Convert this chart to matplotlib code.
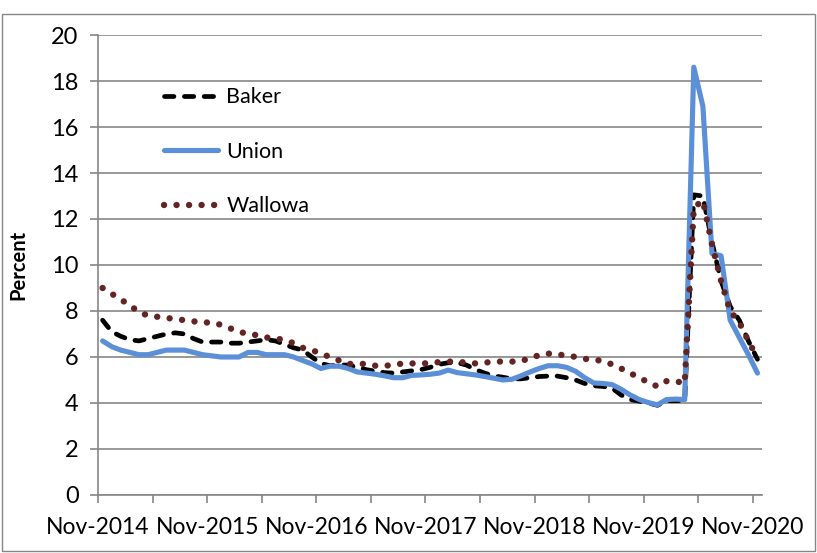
import numpy as np
import matplotlib
matplotlib.use("Agg")
import matplotlib.pyplot as plt
from matplotlib.patches import Rectangle

# ---- data (monthly, Nov-2014 .. Nov-2020) ----
baker = [7.6, 7.1, 6.9, 6.75, 6.7, 6.8, 6.9, 7.0, 7.05, 7.0, 6.8, 6.65,
         6.65, 6.65, 6.6, 6.6, 6.65, 6.7, 6.75, 6.7, 6.55, 6.4, 6.3, 6.0,
         5.72, 5.62, 5.65, 5.65, 5.55, 5.45, 5.38, 5.32, 5.3, 5.35, 5.4, 5.45,
         5.55, 5.68, 5.75, 5.75, 5.65, 5.45, 5.3, 5.18, 5.12, 5.05, 5.05, 5.1,
         5.15, 5.17, 5.17, 5.1, 5.0, 4.85, 4.75, 4.72, 4.65, 4.35, 4.15, 4.08,
         4.0, 3.9, 4.1, 4.1, 4.1, 13.05, 13.0, 11.0, 9.3, 8.2, 7.6, 6.7,
         5.9]
union = [6.7, 6.45, 6.3, 6.2, 6.1, 6.1, 6.2, 6.3, 6.3, 6.3, 6.2, 6.1,
         6.05, 6.0, 6.0, 6.0, 6.2, 6.2, 6.1, 6.1, 6.1, 6.0, 5.85, 5.7,
         5.5, 5.6, 5.6, 5.5, 5.35, 5.3, 5.25, 5.18, 5.1, 5.1, 5.2, 5.22,
         5.25, 5.3, 5.43, 5.32, 5.27, 5.22, 5.15, 5.08, 5.0, 5.03, 5.18, 5.35,
         5.5, 5.62, 5.62, 5.55, 5.38, 5.1, 4.87, 4.85, 4.8, 4.6, 4.35, 4.15,
         4.02, 3.92, 4.15, 4.17, 4.15, 18.6, 16.9, 10.5, 10.4, 7.6, 6.85, 6.1,
         5.3]
wallowa = [9.0, 8.75, 8.5, 8.25, 7.95, 7.8, 7.75, 7.7, 7.65, 7.6, 7.55, 7.5,
           7.5, 7.4, 7.25, 7.1, 7.0, 6.95, 6.85, 6.8, 6.75, 6.6, 6.4, 6.3,
           6.15, 6.0, 5.85, 5.7, 5.7, 5.7, 5.62, 5.62, 5.65, 5.72, 5.72, 5.72,
           5.73, 5.78, 5.8, 5.8, 5.75, 5.72, 5.75, 5.8, 5.8, 5.8, 5.82, 5.95,
           6.08, 6.15, 6.1, 6.08, 6.0, 5.92, 5.88, 5.83, 5.68, 5.5, 5.3, 5.1,
           4.9, 4.72, 4.95, 4.95, 4.85, 12.5, 12.8, 10.9, 9.3, 8.0, 7.5, 6.7,
           5.95]
tick_labels = ["Nov-2014", "Nov-2015", "Nov-2016", "Nov-2017",
               "Nov-2018", "Nov-2019", "Nov-2020"]
y_label = "Percent"

FONT = "Lato"
GRID = "#868686"

fig = plt.figure(figsize=(8.17, 5.53), dpi=100)
ax = fig.add_axes([0.120, 0.1049, 0.8127, 0.8318])

x = np.arange(len(union)) + 0.5

ax.plot(x, baker, color="black", lw=3.4, linestyle=(0, (2.0, 2.2)),
        dash_capstyle="round", label="Baker", zorder=3)
ax.plot(x, union, color="#5B8FD7", lw=3.7, solid_joinstyle="round",
        solid_capstyle="round", label="Union", zorder=4)
ax.plot(x, wallowa, color="#632523", lw=4.6, linestyle=(0, (0.01, 1.95)),
        dash_capstyle="round", label="Wallowa", zorder=5)

ax.set_xlim(0, 73)
ax.set_ylim(0, 20)
ax.set_yticks(np.arange(0, 21, 2))
ax.set_xticks(np.arange(0, 73, 6))
ax.set_xticklabels([tick_labels[i // 2] if i % 2 == 0 else ""
                    for i in range(13)])

ax.grid(axis="y", color=GRID, lw=1.2)
ax.set_axisbelow(True)
for s in ["top", "right"]:
    ax.spines[s].set_visible(False)
for s in ["left", "bottom"]:
    ax.spines[s].set_color(GRID)
    ax.spines[s].set_linewidth(1.2)

ax.tick_params(axis="both", direction="out", length=6, width=1.2,
               color=GRID, labelsize=16.5, pad=4)
ax.tick_params(axis="x", pad=10)
ax.tick_params(axis="y", labelsize=17, pad=8)
for lab in ax.get_xticklabels() + ax.get_yticklabels():
    lab.set_fontfamily(FONT)

ax.set_ylabel(y_label, fontsize=14.5, fontweight="bold", family=FONT,
              labelpad=16)

leg = ax.legend(loc="upper left", bbox_to_anchor=(0.086, 0.905),
                frameon=False, prop={"family": FONT, "size": 15.5},
                handlelength=2.5, handletextpad=0.4, labelspacing=1.6,
                borderaxespad=0)

fig.patches.append(Rectangle((0.003, 0.004), 0.994, 0.971,
                             transform=fig.transFigure, fill=False,
                             edgecolor=GRID, lw=1))

fig.savefig("out.png", dpi=100, facecolor="white")
